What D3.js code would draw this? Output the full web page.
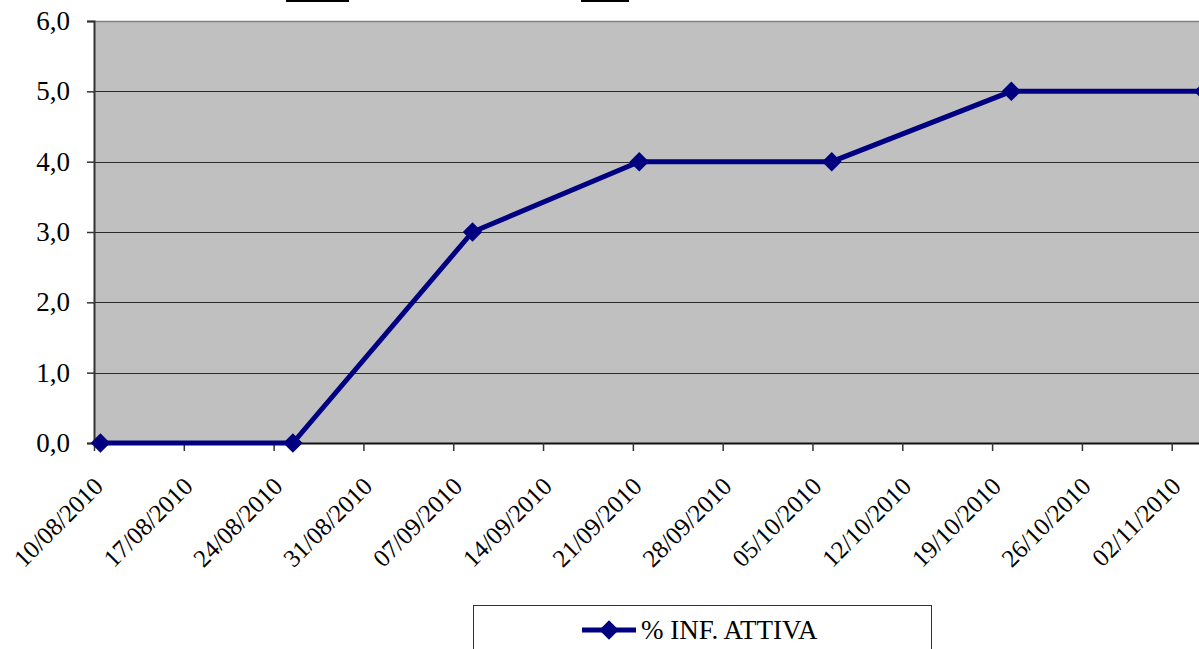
<!DOCTYPE html>
<html>
<head>
<meta charset="utf-8">
<script src="https://cdn.jsdelivr.net/npm/d3@7"></script>
<style>
  html, body { margin: 0; padding: 0; background: #fff; overflow: hidden; }
  svg { display: block; }
  text { font-family: "Liberation Serif", "Times New Roman", serif; fill: #000; }
</style>
</head>
<body>
<svg id="chart" width="1199" height="649"></svg>
<script>
// ---- data ----
const dates = ["10/08/2010", "25/08/2010", "08/09/2010", "21/09/2010", "06/10/2010", "20/10/2010", "04/11/2010"];
const values = [0, 0, 3, 4, 4, 5, 5];
const tickDates = ["10/08/2010", "17/08/2010", "24/08/2010", "31/08/2010", "07/09/2010", "14/09/2010",
                   "21/09/2010", "28/09/2010", "05/10/2010", "12/10/2010", "19/10/2010", "26/10/2010", "02/11/2010"];
const yTicks = [0, 1, 2, 3, 4, 5, 6];
const seriesName = "% INF. ATTIVA";

// ---- setup ----
const parse = d3.utcParse("%d/%m/%Y");
const fmt = d3.utcFormat("%d/%m/%Y");
const svg = d3.select("#chart");
const FONT = "Liberation Serif";
const FS = 27;
const FSX = 25;

const plotLeft = 94, plotTop = 21, plotBottom = 443;
const pxPerDay = 12.83;
const d0 = parse("10/08/2010");
const dEnd = d3.utcDay.offset(d0, 88);
const x = d3.scaleUtc().domain([d0, dEnd]).range([plotLeft, plotLeft + 88 * pxPerDay]);
const y = d3.scaleLinear().domain([0, 6]).range([plotBottom, plotTop]);

// title remnants (underlines of a cropped title)
svg.append("line").attr("x1", 286).attr("x2", 349).attr("y1", 1).attr("y2", 1)
  .attr("stroke", "#000").attr("stroke-width", 2);
svg.append("line").attr("x1", 581).attr("x2", 629).attr("y1", 1).attr("y2", 1)
  .attr("stroke", "#000").attr("stroke-width", 2);

// plot area
svg.append("rect").attr("x", plotLeft).attr("y", plotTop)
  .attr("width", 1199 - plotLeft + 20).attr("height", plotBottom - plotTop)
  .attr("fill", "#C0C0C0");
svg.append("line").attr("x1", plotLeft).attr("x2", 1199).attr("y1", plotTop + 0.5).attr("y2", plotTop + 0.5)
  .attr("stroke", "#808080").attr("stroke-width", 1.5);

// gridlines
svg.append("g").selectAll("line").data(yTicks.filter(v => v > 0 && v < 6)).join("line")
  .attr("x1", plotLeft).attr("x2", 1199)
  .attr("y1", d => Math.round(y(d)) + 0.5).attr("y2", d => Math.round(y(d)) + 0.5)
  .attr("stroke", "#2a2a2a").attr("stroke-width", 1);

// y axis
const yAxis = svg.append("g").attr("transform", `translate(${plotLeft},0)`)
  .call(d3.axisLeft(y).tickValues(yTicks).tickSize(7).tickPadding(17)
    .tickFormat(d => d3.format(".1f")(d).replace(".", ",")));
yAxis.attr("font-family", FONT).attr("font-size", FS);
yAxis.select(".domain").attr("stroke", "#333").attr("stroke-width", 2);
yAxis.selectAll(".tick line").attr("stroke", "#333").attr("stroke-width", 1.5);
yAxis.selectAll(".tick text").attr("fill", "#000");

// x axis
const xAxis = svg.append("g").attr("transform", `translate(0,${plotBottom})`)
  .call(d3.axisBottom(x).tickValues(tickDates.map(parse)).tickSize(8).tickFormat(fmt));
xAxis.attr("font-family", FONT).attr("font-size", FSX);
xAxis.select(".domain").attr("stroke", "#111").attr("stroke-width", 2).attr("d", `M${plotLeft},0.5H1199`);
xAxis.selectAll(".tick line").attr("stroke", "#333").attr("stroke-width", 1.5);
xAxis.selectAll(".tick text")
  .attr("fill", "#000")
  .attr("text-anchor", "end").attr("dy", null).attr("y", null)
  .attr("transform", "translate(10,45) rotate(-45)");

// series
const pts = dates.map((d, i) => ({ date: d3.utcHour.offset(parse(d), 12), value: values[i] }));
const line = d3.line().x(d => x(d.date)).y(d => y(d.value));
svg.append("path").datum(pts).attr("d", line)
  .attr("fill", "none").attr("stroke", "#000080").attr("stroke-width", 5).attr("stroke-linejoin", "miter");
const diamond = d3.symbol().type(d3.symbolSquare).size(190);
svg.append("g").selectAll("path").data(pts).join("path")
  .attr("d", diamond)
  .attr("transform", d => `translate(${x(d.date)},${y(d.value)}) rotate(45)`)
  .attr("fill", "#000080");

// legend
const lg = svg.append("g");
lg.append("rect").attr("x", 473.5).attr("y", 605.5).attr("width", 458).attr("height", 60)
  .attr("fill", "#fff").attr("stroke", "#333").attr("stroke-width", 1);
lg.append("line").attr("x1", 582).attr("x2", 636).attr("y1", 630).attr("y2", 630)
  .attr("stroke", "#000080").attr("stroke-width", 5);
lg.append("path").attr("d", diamond).attr("transform", "translate(609,630) rotate(45)").attr("fill", "#000080");
lg.append("text").attr("x", 641).attr("y", 639).attr("font-family", FONT).attr("font-size", FS).text(seriesName);
</script>
</body>
</html>
